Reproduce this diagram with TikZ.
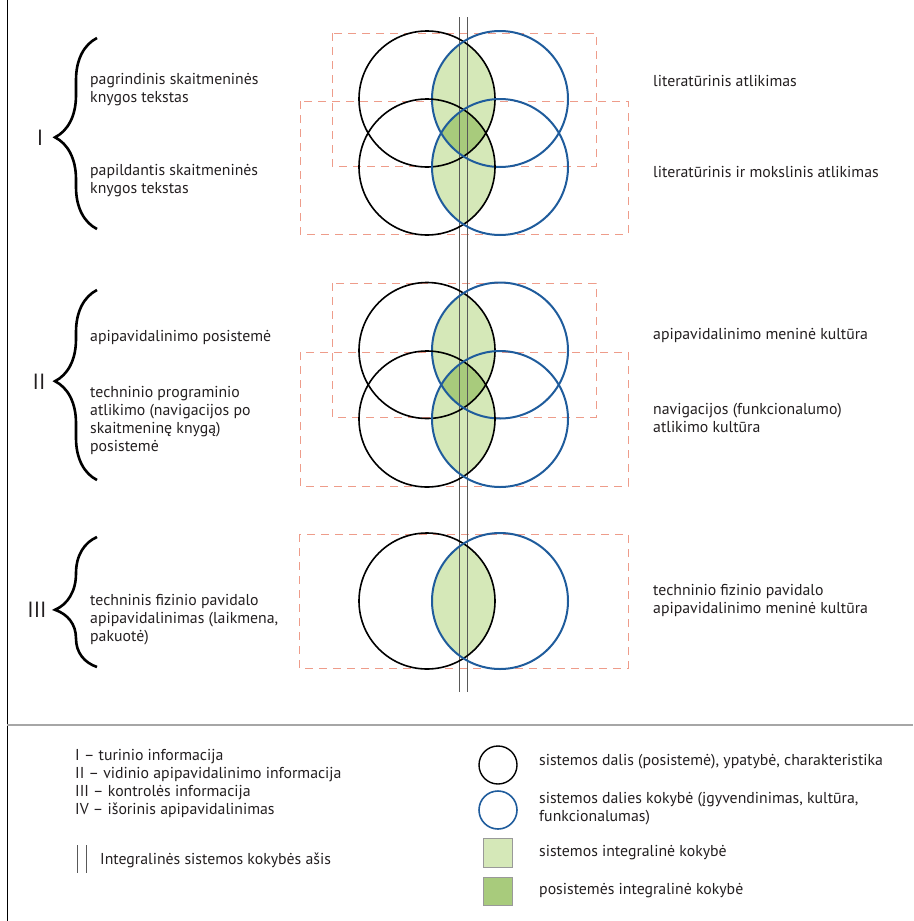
\documentclass[tikz,border=0pt]{standalone}
\usepackage{fontspec}
\setmainfont{PT Sans}
\usepackage{tikz}
\usetikzlibrary{decorations.pathreplacing}

\definecolor{qblue}{HTML}{1F5C9C}
\definecolor{lensgreen}{HTML}{D5E8B8}
\definecolor{coregreen}{HTML}{A8CB7C}
\definecolor{boxred}{HTML}{EE9C8A}
\definecolor{txtgray}{HTML}{231F20}

\begin{document}
\begin{tikzpicture}[x=1pt,y=-1pt,
    part/.style={black,line width=1.6pt},
    quality/.style={qblue,line width=2pt},
    frame/.style={boxred,line width=0.9pt,dash pattern=on 8pt off 6pt},
    axisline/.style={black!65,line width=0.8pt},
    curly/.style={decorate,decoration={brace,amplitude=42pt,aspect=#1},line width=2.6pt},
    txt/.style={anchor=west,align=left,font=\fontsize{15.8}{18}\selectfont,text=txtgray,inner sep=0pt},
    roman/.style={font=\fontsize{22}{22}\selectfont,text=txtgray,inner sep=0pt}]
\def\rr{68}

    \useasboundingbox (0,0) rectangle (913,921);
    \draw[black,line width=0.8pt] (7,0) -- (7,921);
    \draw[black!35,line width=1.2pt] (7,725) -- (913,725);

    % dashed frames
    \draw[frame] (332,33) rectangle (596,166);
    \draw[frame] (300,101) rectangle (628,234);
    \draw[frame] (332,283) rectangle (596,417);
    \draw[frame] (300,352) rectangle (628,486);
    \draw[frame] (299,534) rectangle (628,668);

    % lenses
    \foreach \yc in {99,167,350.5,419,601}{
      \begin{scope}
        \clip (427,\yc) circle(\rr);
        \fill[lensgreen] (500,\yc) circle(\rr);
      \end{scope}
    }
    \foreach \ya/\yb in {99/167,350.5/419}{
      \begin{scope}
        \clip (427,\ya) circle(\rr);
        \clip (500,\ya) circle(\rr);
        \clip (427,\yb) circle(\rr);
        \fill[coregreen] (500,\yb) circle(\rr);
      \end{scope}
    }

    % axis
    \coordinate (axTl) at (459,17);
    \coordinate (axBl) at (459,692);
    \coordinate (axTr) at (467,17);
    \coordinate (axBr) at (467,692);
    \draw[axisline] (axTl) -- (axBl);
    \draw[axisline] (axTr) -- (axBr);

    % circles
    \foreach \yc in {99,167,350.5,419,601}{
      \draw[part] (427,\yc) circle(\rr);
      \draw[quality] (500,\yc) circle(\rr);
    }

    % group I
    \node[roman] (gI) at (40,138) {I};
    \coordinate (bIa) at (97,229);
    \coordinate (bIb) at (97,38);
    \draw[curly=0.48] (bIa) -- (bIb);
    \node[txt] (lIa) at (90,90) {pagrindinis skaitmeninės\\knygos tekstas};
    \node[txt] (lIb) at (90,181) {papildantis skaitmeninės\\knygos tekstas};
    \node[txt] (rIa) at (653,81) {literatūrinis atlikimas};
    \node[txt] (rIb) at (653,172) {literatūrinis ir mokslinis atlikimas};

    % group II
    \node[roman] (gII) at (39,382) {II};
    \coordinate (bIIa) at (97,480);
    \coordinate (bIIb) at (97,290);
    \draw[curly=0.52] (bIIa) -- (bIIb);
    \node[txt] (lIIa) at (90,337) {apipavidalinimo posistemė};
    \node[txt] (lIIb) at (90,420) {techninio programinio\\atlikimo (navigacijos po\\skaitmeninę knygą)\\posistemė};
    \node[txt] (rIIa) at (653,335) {apipavidalinimo meninė kultūra};
    \node[txt] (rIIb) at (653,418) {navigacijos (funkcionalumo)\\atlikimo kultūra};

    % group III
    \node[roman] (gIII) at (37,610) {III};
    \coordinate (bIIIa) at (97,667);
    \coordinate (bIIIb) at (97,537);
    \draw[curly=0.44] (bIIIa) -- (bIIIb);
    \node[txt] (lIII) at (90,620) {techninis fizinio pavidalo\\apipavidalinimas (laikmena,\\pakuotė)};
    \node[txt] (rIII) at (653,600) {techninio fizinio pavidalo\\apipavidalinimo meninė kultūra};

    % legend
    \node[txt] (keyRoman) at (75,783) {I -- turinio informacija\\II -- vidinio apipavidalinimo informacija\\III -- kontrolės informacija\\IV -- išorinis apipavidalinimas};
    \coordinate (keyAxTl) at (77,845);
    \coordinate (keyAxBl) at (77,873);
    \coordinate (keyAxTr) at (86,845);
    \coordinate (keyAxBr) at (86,873);
    \draw[axisline] (keyAxTl) -- (keyAxBl);
    \draw[axisline] (keyAxTr) -- (keyAxBr);
    \node[txt] (keyAx) at (100,860) {Integralinės sistemos kokybės ašis};

    \draw[part,line width=1.4pt] (498,765) circle(19);
    \draw[quality,line width=1.6pt] (498,810) circle(19);
    \draw[black!40,fill=lensgreen] (483,838) rectangle (512,867);
    \draw[black!40,fill=coregreen] (483,877) rectangle (512,905);
    \node[txt] (keyPart) at (539,762) {sistemos dalis (posistemė), ypatybė, charakteristika};
    \node[txt] (keyQual) at (539,809) {sistemos dalies kokybė (įgyvendinimas, kultūra,\\funkcionalumas)};
    \node[txt] (keyLens) at (539,853) {sistemos integralinė kokybė};
    \node[txt] (keyCore) at (539,891) {posistemės integralinė kokybė};

\end{tikzpicture}
\end{document}
